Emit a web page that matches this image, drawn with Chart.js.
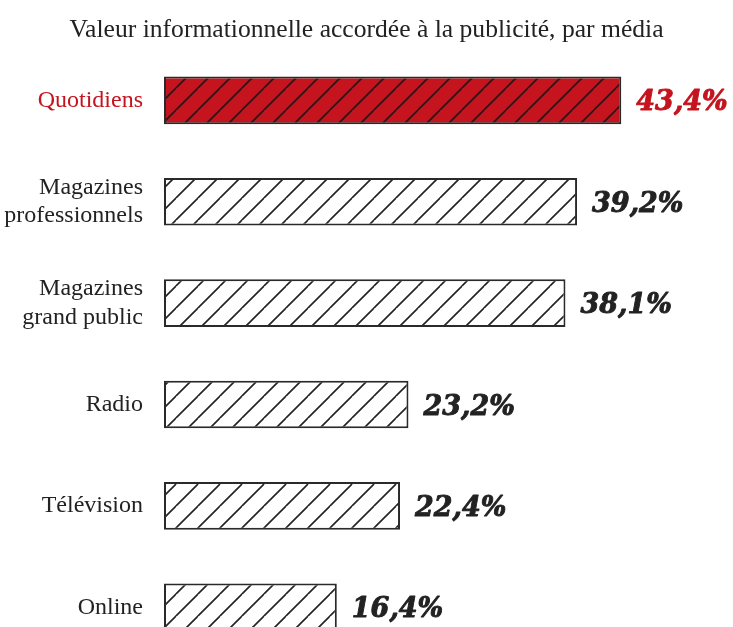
<!DOCTYPE html>
<html lang="fr">
<head>
<meta charset="utf-8">
<title>Valeur informationnelle accordée à la publicité</title>
<script src="https://cdn.jsdelivr.net/npm/chart.js@4.4.1/dist/chart.umd.min.js"></script>
<style>
  html, body { margin: 0; padding: 0; background: #fff; overflow: hidden; }
  #wrap { width: 733px; height: 627px; overflow: hidden; }
</style>
</head>
<body>
<div id="wrap"><canvas id="chart" width="733" height="658"></canvas></div>
<script>
// Données : médias et part (%) de valeur informationnelle
const medias = ['Quotidiens', ['Magazines', 'professionnels'], ['Magazines', 'grand public'], 'Radio', 'Télévision', 'Online'];
const valeurs = [43.4, 39.2, 38.1, 23.2, 22.4, 16.4];
const echelleMax = 54;

const ROUGE = '#c5141e';
const ENCRE = '#222222';

// motif hachuré à 45°
function hachures(fond, trait) {
  const s = 22;
  const c = document.createElement('canvas');
  c.width = s; c.height = s;
  const g = c.getContext('2d');
  g.fillStyle = fond;
  g.fillRect(0, 0, s, s);
  g.strokeStyle = trait;
  g.lineWidth = 1.6;
  g.beginPath();
  g.moveTo(-s, s); g.lineTo(0, 0);
  g.moveTo(0, s * 2); g.lineTo(s * 2, 0);
  g.moveTo(0, s); g.lineTo(s, 0);
  g.stroke();
  return g.createPattern(c, 'repeat');
}

const motifRouge = hachures(ROUGE, '#2a1416');
const motifBlanc = hachures('#ffffff', ENCRE);

// étiquettes de valeur à droite des barres
const etiquettes = {
  id: 'etiquettes',
  afterDatasetsDraw(chart) {
    const ctx = chart.ctx;
    const meta = chart.getDatasetMeta(0);
    ctx.save();
    ctx.font = 'italic bold 27px "DejaVu Serif"';
    ctx.textAlign = 'left';
    ctx.textBaseline = 'middle';
    ctx.lineWidth = 0.9;
    ctx.lineJoin = 'round';
    meta.data.forEach((bar, i) => {
      const coul = i === 0 ? ROUGE : ENCRE;
      ctx.fillStyle = coul;
      ctx.strokeStyle = coul;
      const txt = valeurs[i].toFixed(1).replace('.', ',') + '%';
      ctx.fillText(txt, bar.x + 15, bar.y + 3);
      ctx.strokeText(txt, bar.x + 15, bar.y + 3);
    });
    ctx.restore();
  }
};

new Chart(document.getElementById('chart'), {
  type: 'bar',
  data: {
    labels: medias,
    datasets: [{
      data: valeurs,
      backgroundColor: valeurs.map((v, i) => i === 0 ? motifRouge : motifBlanc),
      borderColor: '#2a2a2a',
      borderWidth: 2,
      borderSkipped: false,
      barPercentage: 0.47,
      categoryPercentage: 1
    }]
  },
  options: {
    indexAxis: 'y',
    responsive: false,
    animation: false,
    devicePixelRatio: 1,
    layout: { padding: 0 },
    plugins: {
      legend: { display: false },
      tooltip: { enabled: false },
      title: {
        display: true,
        text: 'Valeur informationnelle accordée à la publicité, par média',
        color: ENCRE,
        font: { family: 'Liberation Serif', size: 25.6, weight: 'normal', lineHeight: 1.2 },
        padding: { top: 15, bottom: 4 }
      }
    },
    scales: {
      x: {
        display: false,
        min: 0,
        max: echelleMax
      },
      y: {
        afterFit(scale) {
          scale.width = 164;
          // pas de marge pour les libellés : la dernière barre touche le bord
          scale.paddingTop = 0;
          scale.paddingBottom = 0;
        },
        grid: { display: false, drawTicks: false },
        border: { display: false },
        ticks: {
          padding: 21,
          color: ctx => ctx.index === 0 ? ROUGE : ENCRE,
          font: { family: 'Liberation Serif', size: 24, lineHeight: 1.2 }
        }
      }
    }
  },
  plugins: [etiquettes]
});
</script>
</body>
</html>
